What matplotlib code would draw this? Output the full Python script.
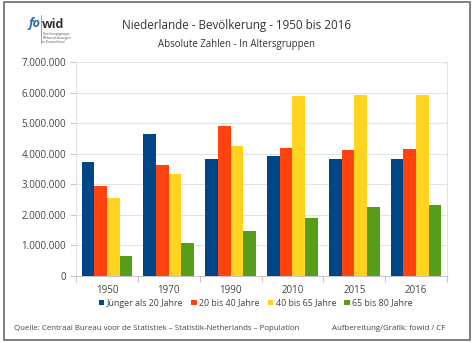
import matplotlib
matplotlib.use('Agg')
import matplotlib.pyplot as plt
from matplotlib.patches import Rectangle
from matplotlib.lines import Line2D
import numpy as np

plt.rcParams['font.family'] = ['Open Sans', 'DejaVu Sans']

years = ['1950', '1970', '1990', '2010', '2015', '2016']
series_names = ['Jünger als 20 Jahre', '20 bis 40 Jahre', '40 bis 65 Jahre', '65 bis 80 Jahre']
unter_20 = [3740000, 4660000, 3830000, 3920000, 3830000, 3820000]
von_20_40 = [2940000, 3640000, 4910000, 4190000, 4120000, 4150000]
von_40_65 = [2560000, 3320000, 4240000, 5910000, 5930000, 5920000]
von_65_80 = [660000, 1070000, 1470000, 1890000, 2260000, 2330000]
colors = ['#004586', '#ff420e', '#ffd320', '#579d1c']

W, H = 474, 343
fig = plt.figure(figsize=(W / 100, H / 100), dpi=100)


def fx(x):
    return x / W


def fy(y):
    return 1 - y / H


# outer frame
fig.patches.append(Rectangle((fx(4), fy(340)), fx(470) - fx(4), fy(2) - fy(340),
                             transform=fig.transFigure, fill=False,
                             edgecolor='#6a6a6a', linewidth=1.2))

ax = fig.add_axes([fx(76), fy(275.7), fx(447) - fx(76), fy(62.3) - fy(275.7)])

x = np.arange(len(years))
width = 0.205
for i, (vals, name) in enumerate(zip([unter_20, von_20_40, von_40_65, von_65_80], series_names)):
    ax.bar(x + (i - 1.5) * width, vals, width, color=colors[i], label=name, zorder=3)

ax.set_xlim(-0.5, len(years) - 0.5)
ax.set_ylim(0, 7000000)
ax.set_yticks(np.arange(0, 7000001, 1000000))
ax.set_yticklabels([f'{int(v):,}'.replace(',', '.') for v in np.arange(0, 7000001, 1000000)])
ax.set_xticks(x)
ax.set_xticklabels(years)
ax.set_xticks(np.arange(-0.5, len(years), 1), minor=True)
ax.tick_params(axis='x', which='major', length=0, pad=7, labelsize=7, labelcolor='#444444')
ax.tick_params(axis='x', which='minor', length=4, color='#c8c8c8', width=0.8)
ax.tick_params(axis='y', length=4, color='#c8c8c8', width=0.8, pad=3,
               labelsize=7, labelcolor='#444444')
ax.grid(axis='y', color='#e3e3e3', linewidth=0.8, zorder=0)
for side in ['left', 'right', 'top']:
    ax.spines[side].set_color('#e3e3e3')
    ax.spines[side].set_linewidth(0.8)
ax.spines['top'].set_visible(False)
ax.spines['bottom'].set_color('#c8c8c8')
ax.spines['bottom'].set_linewidth(0.8)

fig.text(fx(237), fy(25), 'Niederlande - Bevölkerung - 1950 bis 2016',
         ha='center', va='center', fontsize=8.4, color='#333333')
fig.text(fx(236), fy(44), 'Absolute Zahlen - In Altersgruppen',
         ha='center', va='center', fontsize=6.9, color='#333333')

# logo
fig.text(fx(28), fy(24), 'fo', ha='left', va='center', fontsize=9,
         fontweight='bold', fontstyle='italic', color='#2a6ab0')
fig.text(fx(41.5), fy(24), 'wid', ha='left', va='center', fontsize=9,
         fontweight='bold', color='#333333')
fig.add_artist(Line2D([fx(41), fx(41)], [fy(15), fy(43)], transform=fig.transFigure,
                      color='#777777', linewidth=0.5))
fig.text(fx(42.5), fy(38), 'Forschungsgruppe\nWeltanschauungen\nin Deutschland',
         ha='left', va='center', fontsize=2.3, color='#555555', linespacing=1.1)

fig.legend(loc='center', bbox_to_anchor=(fx(256), fy(303)), ncol=4, frameon=False,
           fontsize=6.4, handlelength=0.6, handleheight=0.6, handletextpad=0.3,
           columnspacing=0.9, labelcolor='#444444', borderpad=0)

fig.text(fx(14), fy(328), 'Quelle: Centraal Bureau voor de Statistiek – Statistik-Netherlands – Population',
         ha='left', va='center', fontsize=5.7, color='#444444')
fig.text(fx(445), fy(328), 'Aufbereitung/Grafik: fowid / CF',
         ha='right', va='center', fontsize=5.7, color='#444444')

fig.savefig('out.png', dpi=100)
